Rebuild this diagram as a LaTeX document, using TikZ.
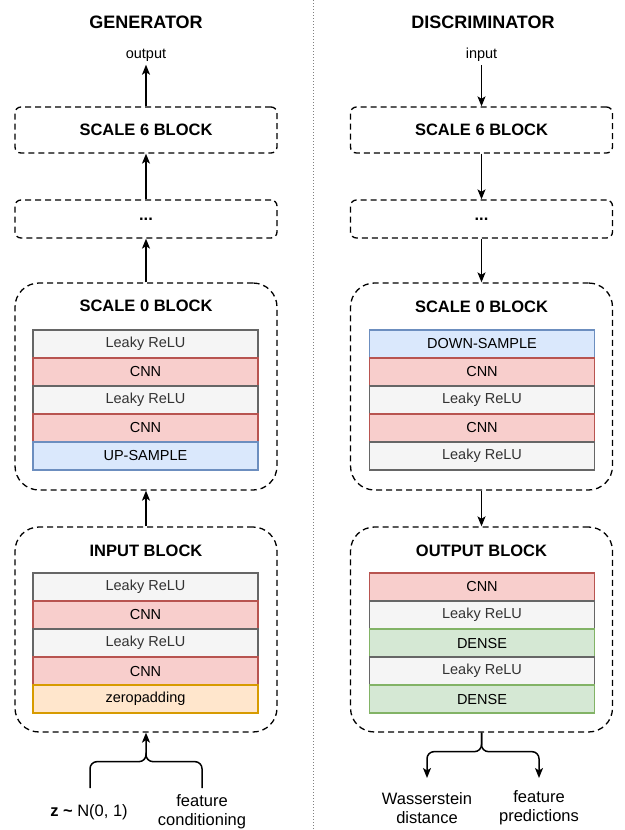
\documentclass[tikz,border=0pt]{standalone}
\usepackage{fontspec}
\setmainfont{Liberation Sans}
\usetikzlibrary{arrows.meta}
\definecolor{grayF}{HTML}{F5F5F5}\definecolor{grayD}{HTML}{666666}
\definecolor{redF}{HTML}{F8CECC}\definecolor{redD}{HTML}{B85450}
\definecolor{blueF}{HTML}{DAE8FC}\definecolor{blueD}{HTML}{6C8EBF}
\definecolor{orgF}{HTML}{FFE6CC}\definecolor{orgD}{HTML}{D79B00}
\definecolor{grnF}{HTML}{D5E8D4}\definecolor{grnD}{HTML}{82B366}
\definecolor{txtG}{HTML}{333333}
\tikzset{
  block/.style={draw, dash pattern=on 6pt off 4pt, line width=1.3pt, minimum width=262pt, inner sep=0pt},
  smallblock/.style={block, rounded corners=6pt, font=\bfseries\fontsize{16.5}{18}\selectfont},
  bigblock/.style={block, rounded corners=24pt},
  btitle/.style={font=\bfseries\fontsize{16.5}{18}\selectfont},
  ctitle/.style={font=\bfseries\fontsize{18}{20}\selectfont},
  layer/.style={draw, line width=1.5pt, minimum width=225pt, minimum height=28pt, inner sep=0pt, font=\fontsize{14.5}{16}\selectfont},
  lrelu/.style={layer, fill=grayF, draw=grayD, text=txtG},
  cnn/.style={layer, fill=redF, draw=redD},
  samp/.style={layer, fill=blueF, draw=blueD},
  zpad/.style={layer, fill=orgF, draw=orgD},
  dense/.style={layer, fill=grnF, draw=grnD},
  lbl/.style={font=\fontsize{14.5}{16}\selectfont},
  blbl/.style={font=\fontsize{16.5}{19}\selectfont, align=center},
  conn/.style={line width=1.5pt},
  arr/.style={conn, -{Stealth[length=10pt,width=8pt,inset=2.5pt]}}
}
\begin{document}
\begin{tikzpicture}[x=1pt,y=-1pt]
\useasboundingbox (0,0) rectangle (624,830);
% separator
\coordinate (sepT) at (313,0);
\coordinate (sepB) at (313,830);
\draw[gray, dotted, line width=1pt] (sepT) -- (sepB);

% ================= GENERATOR =================
\node[ctitle] (gtitle) at (146,22) {GENERATOR};
\node[lbl] (gout) at (146,55) {output};
\node[smallblock, minimum height=46pt] (gs6) at (146,130) {SCALE 6 BLOCK};
\node[smallblock, minimum height=38pt] (gdots) at (146,219) {...};
\node[bigblock, minimum height=207pt] (gs0) at (146,386.5) {};
\node[btitle] (gs0t) at (146,306) {SCALE 0 BLOCK};
\node[lrelu] (g1) at (145.5,344) {Leaky ReLU};
\node[cnn]   (g2) at (145.5,372) {CNN};
\node[lrelu] (g3) at (145.5,400) {Leaky ReLU};
\node[cnn]   (g4) at (145.5,428) {CNN};
\node[samp]  (g5) at (145.5,456) {UP-SAMPLE};
\node[bigblock, minimum height=205pt] (gin) at (146,629.5) {};
\node[btitle] (gint) at (146,551) {INPUT BLOCK};
\node[lrelu] (i1) at (145.5,587) {Leaky ReLU};
\node[cnn]   (i2) at (145.5,615) {CNN};
\node[lrelu] (i3) at (145.5,643) {Leaky ReLU};
\node[cnn]   (i4) at (145.5,671) {CNN};
\node[zpad]  (i5) at (145.5,699) {zeropadding};

\draw[arr] (gs6.north) -- (gout.south);
\draw[arr] (gdots.north) -- (gs6.south);
\draw[arr] (gs0.north) -- (gdots.south);
\draw[arr] (gin.north) -- (gs0.south);

\node[blbl] (gz) at (89,812) {\textbf{z \textasciitilde} N(0, 1)};
\node[blbl] (gf) at (202,812) {feature\\conditioning};
\coordinate (gbL) at (90,788);
\coordinate (gbR) at (202,788);
\path (gin.south) ++(0,29) coordinate (gbM);
\path (gin.south) ++(0,20) coordinate (gbC);
\draw[arr, rounded corners=7pt] (gbL) |- (gbM) -- (gin.south);
\draw[conn, rounded corners=7pt] (gbR) |- (gbM) -- (gbC);

% ================= DISCRIMINATOR =================
\node[ctitle] (dtitle) at (483,22) {DISCRIMINATOR};
\node[lbl] (din) at (481.5,55) {input};
\node[smallblock, minimum height=46pt] (ds6) at (481.5,130) {SCALE 6 BLOCK};
\node[smallblock, minimum height=38pt] (ddots) at (481.5,219) {...};
\node[bigblock, minimum height=207pt] (ds0) at (481.5,386.5) {};
\node[btitle] (ds0t) at (481.5,307) {SCALE 0 BLOCK};
\node[samp]  (d1) at (482,344) {DOWN-SAMPLE};
\node[cnn]   (d2) at (482,372) {CNN};
\node[lrelu] (d3) at (482,400) {Leaky ReLU};
\node[cnn]   (d4) at (482,428) {CNN};
\node[lrelu] (d5) at (482,456) {Leaky ReLU};
\node[bigblock, minimum height=205pt] (dout) at (481.5,629.5) {};
\node[btitle] (doutt) at (481.5,551) {OUTPUT BLOCK};
\node[cnn]   (o1) at (482,587) {CNN};
\node[lrelu] (o2) at (482,615) {Leaky ReLU};
\node[dense] (o3) at (482,643) {DENSE};
\node[lrelu] (o4) at (482,671) {Leaky ReLU};
\node[dense] (o5) at (482,699) {DENSE};

\draw[arr] (din.south) -- (ds6.north);
\draw[arr] (ds6.south) -- (ddots.north);
\draw[arr] (ddots.south) -- (ds0.north);
\draw[arr] (ds0.south) -- (dout.north);

\node[blbl] (dw) at (427,808) {Wasserstein\\distance};
\node[blbl] (dfp) at (539,808) {feature\\predictions};
\path (dout.south) ++(0,19) coordinate (dbM);
\coordinate (dWa) at (427,778);
\coordinate (dFe) at (539,778);
\draw[arr, rounded corners=7pt] (dout.south) -- (dbM) -| (dWa);
\draw[arr, rounded corners=7pt] (dout.south) -- (dbM) -| (dFe);
\end{tikzpicture}
\end{document}
